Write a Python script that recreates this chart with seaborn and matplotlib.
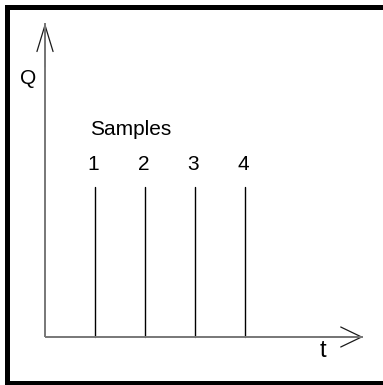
import matplotlib
matplotlib.use("Agg")
import matplotlib.pyplot as plt
from matplotlib.patches import Rectangle, FancyArrowPatch
import seaborn as sns
import pandas as pd

# sample instants on the time axis and the height of each sample line
sample_t = [1, 2, 3, 4]
sample_q = [3, 3, 3, 3]
sample_labels = ["1", "2", "3", "4"]

sns.set_style("white")
plt.rcParams['font.family'] = ['Liberation Sans', 'DejaVu Sans']
plt.rcParams['text.color'] = 'black'

rows = []
for t, q, lab in zip(sample_t, sample_q, sample_labels):
    rows.append({"t": t, "Q": 0, "sample": lab})
    rows.append({"t": t, "Q": q, "sample": lab})
df = pd.DataFrame(rows)

fig = plt.figure(figsize=(3.83, 3.85), dpi=100)
ax = fig.add_axes([0, 0, 1, 1])

sns.lineplot(data=df, x="t", y="Q", units="sample", estimator=None,
             color="black", linewidth=1.0, ax=ax, legend=False)

# axes: gray shafts, thin dark open arrow heads
ax.plot([0, 6.36], [0, 0], color="#777777", lw=1.4, solid_capstyle="butt")
ax.plot([0, 0], [0, 6.28], color="#777777", lw=1.4, solid_capstyle="butt")
ax.add_patch(FancyArrowPatch((5.5, 0), (6.36, 0), arrowstyle="->,head_length=15,head_width=7.2",
                             mutation_scale=1, color="#1a1a1a", linewidth=0.9,
                             shrinkA=0, shrinkB=0))
ax.add_patch(FancyArrowPatch((0, 5.4), (0, 6.28), arrowstyle="->,head_length=19,head_width=5.8",
                             mutation_scale=1, color="#1a1a1a", linewidth=0.9,
                             shrinkA=0, shrinkB=0))

ax.text(0.9, 4.04, "Samples", fontsize=15, ha="left", va="baseline")
for t, lab in zip(sample_t, sample_labels):
    ax.text(t - 0.03, 3.34, lab, fontsize=15, ha="center", va="baseline")

ax.text(-0.34, 5.18, "Q", fontsize=15, ha="center", va="center",
        family=['Liberation Sans Narrow', 'Liberation Sans'])
ax.text(5.56, -0.28, "t", fontsize=17, ha="center", va="center",
        family=['Liberation Sans Narrow', 'Liberation Sans'])

ax.set_xlim(-0.9, 6.76)
ax.set_ylim(-0.96, 6.74)
ax.axis("off")

# frame around the figure (top, left, bottom)
W, H = 383, 385
def bar(x0, y0, x1, y1):
    fig.add_artist(Rectangle((x0 / W, 1 - y1 / H), (x1 - x0) / W, (y1 - y0) / H,
                             transform=fig.transFigure, color="black", lw=0))
bar(5, 5, 383, 10)
bar(5, 5, 10, 385)
bar(5, 381, 383, 385)

fig.savefig("out.png", dpi=100)
